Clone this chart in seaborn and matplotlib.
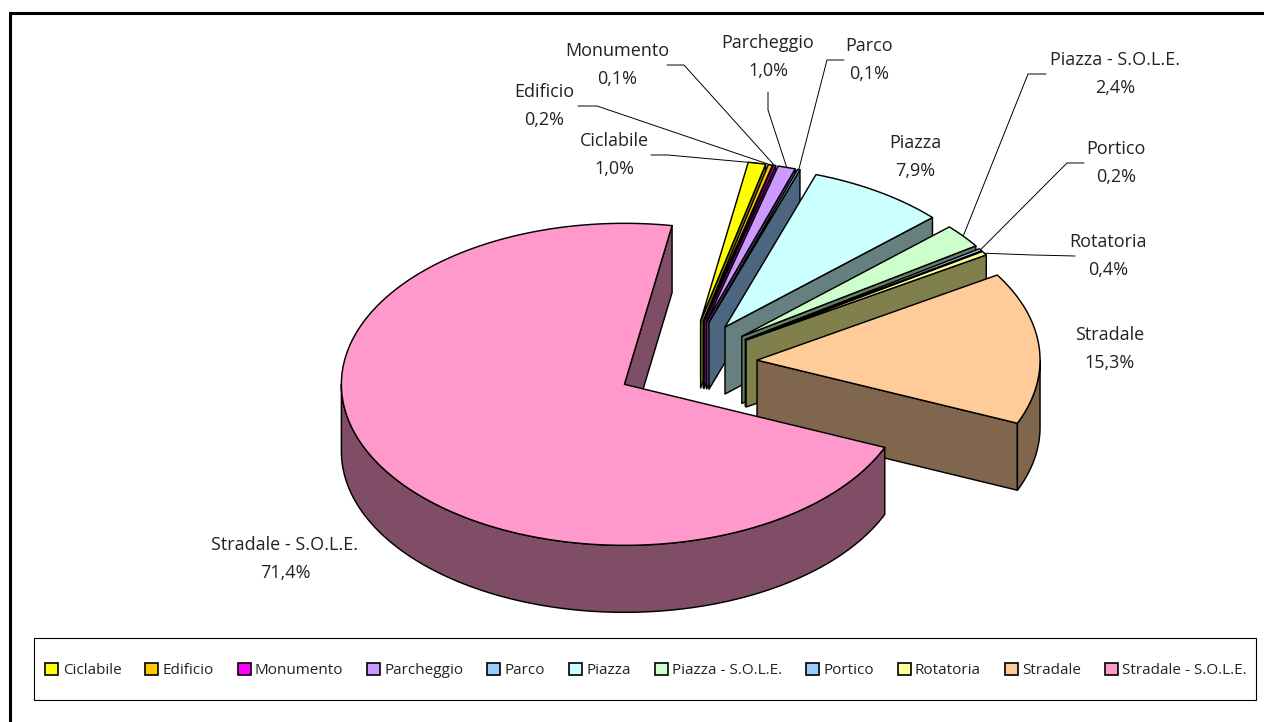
import numpy as np
import matplotlib
matplotlib.use('Agg')
import matplotlib.pyplot as plt
from matplotlib.patches import Patch, Polygon, Rectangle
import seaborn as sns

categories = ['Ciclabile', 'Edificio', 'Monumento', 'Parcheggio', 'Parco', 'Piazza',
              'Piazza - S.O.L.E.', 'Portico', 'Rotatoria', 'Stradale', 'Stradale - S.O.L.E.']
values = [1.0, 0.24, 0.14, 1.0, 0.14, 7.9, 2.4, 0.24, 0.4, 15.3, 71.4]
colors = ['#FFFF00', '#FFC800', '#FF00FF', '#CC99FF', '#99CCFF', '#CCFFFF',
          '#CCFFCC', '#99CCFF', '#FFFF99', '#FFCC99', '#FF99CC']

# centro etichetta in pixel e gomito della linea guida
label_pos = [(614, 155), (544, 106), (617, 65), (768, 57), (869, 60), (915, 157),
             (1115, 74), (1116, 163), (1108, 256), (1110, 349), (285, 559)]
leader_pts = [[(651, 155), (668, 155)], [(578, 106), (597, 106)], [(667, 65), (684, 65)],
              [(768, 92), (768, 110)], [(844, 60), (827, 60)], None,
              [(1046, 74), (1028, 74)], [(1084, 163), (1067, 163)], [(1075, 256), (1033, 255)],
              None, None]

sns.set_theme(style='white')
plt.rcParams['font.family'] = ['Open Sans', 'DejaVu Sans']

# geometria del cilindro in pixel
CX, CY = 686.5, 363.5
RX, RY = 283, 161
DEPTH = 67
EXPLODE = 0.25
START = 9.7

fig = plt.figure(figsize=(12.64, 7.22), dpi=100)
ax = fig.add_axes([0, 0, 1, 1])
ax.set_xlim(0, 1264)
ax.set_ylim(722, 0)
ax.axis('off')


def rim(ox, oy, deg):
    t = np.radians(deg)
    return ox + RX * np.sin(t), oy - RY * np.cos(t)


def darker(c):
    return tuple(v * 0.5 for v in matplotlib.colors.to_rgb(c))


def face(pts, color):
    ax.add_patch(Polygon(pts, closed=True, facecolor=color, edgecolor='black', lw=1.05, joinstyle='round'))


fractions = np.array(values) / np.sum(values)
edges = START + 360 * np.concatenate([[0], np.cumsum(fractions)])
anchors = []

for i, c in enumerate(colors):
    a0, a1 = edges[i], edges[i + 1]
    mid = (a0 + a1) / 2
    ox = CX + EXPLODE * RX * np.sin(np.radians(mid))
    oy = CY - EXPLODE * RY * np.cos(np.radians(mid)) * 1.08
    anchors.append(rim(ox, oy, mid))

    # pareti di taglio visibili
    for a, front in ((a0, np.sin(np.radians(a0)) < 0), (a1, np.sin(np.radians(a1)) > 0)):
        if front:
            x, y = rim(ox, oy, a)
            face([(ox, oy), (x, y), (x, y + DEPTH), (ox, oy + DEPTH)], darker(c))

    # parete esterna (solo meta' anteriore)
    r0, r1 = max(a0, 90), min(a1, 270)
    if r1 > r0:
        arc = np.linspace(r0, r1, 200)
        x, y = rim(ox, oy, arc)
        pts = np.column_stack([np.r_[x, x[::-1]], np.r_[y, y[::-1] + DEPTH]])
        face(pts, darker(c))

    # faccia superiore
    arc = np.linspace(a0, a1, max(int(a1 - a0) * 2, 4))
    x, y = rim(ox, oy, arc)
    face(np.column_stack([np.r_[ox, x], np.r_[oy, y]]), c)

# etichette e linee guida
for i, name in enumerate(categories):
    pct = f'{values[i]:.1f}'.replace('.', ',') + '%'
    ax.text(label_pos[i][0], label_pos[i][1], f'{name}\n{pct}', ha='center', va='center',
            fontsize=13, color='#222222', linespacing=1.78)
    if leader_pts[i] is not None:
        pts = leader_pts[i] + [anchors[i]]
        ax.plot([p[0] for p in pts], [p[1] for p in pts], color='black', lw=0.7)

# cornice esterna
ax.plot([9.5, 9.5, 1264], [722, 12.5, 12.5], color='black', lw=2.2, solid_joinstyle='miter',
        solid_capstyle='butt')

# legenda
ax.add_patch(Rectangle((34, 638), 1222, 62, facecolor='white', edgecolor='black', lw=0.8))
handles = [Patch(facecolor=c, edgecolor='black', lw=1.2, label=n) for n, c in zip(categories, colors)]
ax.legend(handles=handles, ncol=11, loc='center', bbox_to_anchor=(646 / 1264, 1 - 670.5 / 722),
          frameon=False, fontsize=11, handlelength=0.85, handleheight=0.85, handletextpad=0.28,
          columnspacing=1.56, labelcolor='#222222', borderaxespad=0, borderpad=0)

plt.savefig('out.png', dpi=100)
